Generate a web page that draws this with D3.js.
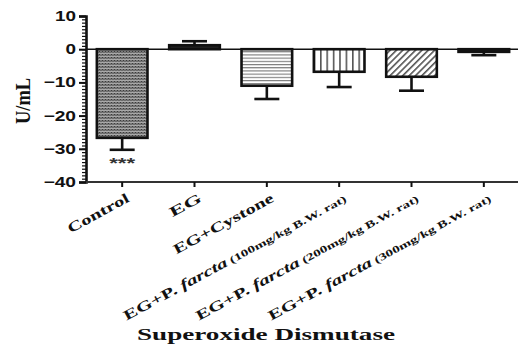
<!DOCTYPE html>
<html>
<head>
<meta charset="utf-8">
<script src="https://cdn.jsdelivr.net/npm/d3@7"></script>
<style>
  html, body { margin: 0; padding: 0; background: #fff; }
  svg { display: block; }
</style>
</head>
<body>
<svg id="chart" width="518" height="347"></svg>
<script>
// Superoxide dismutase activity by treatment group (U/mL)
const groups = ["Control", "EG", "EG+Cystone", "EG+P. farcta 100", "EG+P. farcta 200", "EG+P. farcta 300"];
const means = [-26.7, 1.2, -11.0, -6.8, -8.3, -0.8];
const errors = [3.6, 1.2, 4.0, 4.6, 4.2, 1.0];
const doses = ["100", "200", "300"];
const yTicks = [10, 0, -10, -20, -30, -40];
const patternIds = ["pCheck", "pDots", "pHoriz", "pVert", "pDiag", "pDark"];

const svg = d3.select("#chart");
const W = 518, H = 347;
const m = { left: 86, right: 0, top: 16, bottom: 165 };

const x = d3.scaleBand()
  .domain(groups)
  .range([m.left, W + 2])
  .paddingInner(0.3)
  .paddingOuter(0.15);
const y = d3.scaleLinear().domain([-40, 10]).range([182, 16]);

// fill patterns
const defs = svg.append("defs");
const pc = defs.append("pattern").attr("id", "pCheck").attr("patternUnits", "userSpaceOnUse").attr("width", 3).attr("height", 3);
pc.append("rect").attr("width", 3).attr("height", 3).attr("fill", "#7a7a7a");
pc.append("rect").attr("width", 1).attr("height", 1).attr("fill", "#3a3a3a");
pc.append("rect").attr("x", 1.5).attr("y", 1.5).attr("width", 1).attr("height", 1).attr("fill", "#3a3a3a");
pc.append("rect").attr("y", 2.4).attr("width", 3).attr("height", 0.6).attr("fill", "#cfcfcf");

const pd = defs.append("pattern").attr("id", "pDots").attr("patternUnits", "userSpaceOnUse").attr("width", 8).attr("height", 8);
pd.append("rect").attr("width", 8).attr("height", 8).attr("fill", "#222");
pd.append("rect").attr("x", 2).attr("y", 2).attr("width", 4).attr("height", 3).attr("fill", "#ddd");

const ph = defs.append("pattern").attr("id", "pHoriz").attr("patternUnits", "userSpaceOnUse").attr("width", 4).attr("height", 3.2);
ph.append("rect").attr("width", 4).attr("height", 3.2).attr("fill", "#fff");
ph.append("rect").attr("width", 4).attr("height", 1.1).attr("fill", "#777");

const pv = defs.append("pattern").attr("id", "pVert").attr("patternUnits", "userSpaceOnUse").attr("width", 6.4).attr("height", 4);
pv.append("rect").attr("width", 6.4).attr("height", 4).attr("fill", "#fff");
pv.append("rect").attr("width", 1.6).attr("height", 4).attr("fill", "#555");

const pg = defs.append("pattern").attr("id", "pDiag").attr("patternUnits", "userSpaceOnUse").attr("width", 4.5).attr("height", 4.5).attr("patternTransform", "rotate(-45)");
pg.append("rect").attr("width", 4.5).attr("height", 4.5).attr("fill", "#fff");
pg.append("rect").attr("width", 4.5).attr("height", 1.6).attr("fill", "#555");

const pk = defs.append("pattern").attr("id", "pDark").attr("patternUnits", "userSpaceOnUse").attr("width", 6).attr("height", 6);
pk.append("rect").attr("width", 6).attr("height", 6).attr("fill", "#333");

// y axis with minor ticks every unit
const yMinor = d3.axisLeft(y).ticks(50).tickSize(4).tickFormat("");
svg.append("g").attr("transform", `translate(${m.left},0)`).call(yMinor)
  .call(g => g.selectAll("line").attr("stroke", "#111").attr("stroke-width", 1.2))
  .call(g => g.select(".domain").remove());

const yAxis = d3.axisLeft(y).tickValues(yTicks).tickSize(7).tickPadding(3).tickFormat(d3.format("d"));
svg.append("g").attr("transform", `translate(${m.left},0)`).call(yAxis)
  .call(g => g.select(".domain").attr("stroke", "#111").attr("stroke-width", 2.6))
  .call(g => g.selectAll(".tick line").attr("stroke", "#111").attr("stroke-width", 2))
  .call(g => g.selectAll("text")
    .attr("font-family", "Liberation Sans, Arial, sans-serif")
    .attr("font-weight", "bold").attr("font-size", 14).attr("fill", "#111")
    .attr("textLength", d => String(d).length * 10.5 + (d < 0 ? 1 : 0))
    .attr("lengthAdjust", "spacingAndGlyphs"));

// bottom axis
const xAxis = d3.axisBottom(x).tickSize(5).tickFormat("");
svg.append("g").attr("transform", `translate(0,${y(-40)})`).call(xAxis)
  .call(g => g.select(".domain").attr("stroke", "#333").attr("stroke-width", 2.2).attr("d", `M${m.left},0H${W}`))
  .call(g => g.selectAll(".tick line").attr("stroke", "#111").attr("stroke-width", 2));

// bars
svg.append("g").selectAll("rect").data(groups).join("rect")
  .attr("x", d => x(d))
  .attr("width", x.bandwidth())
  .attr("y", (d, i) => y(Math.max(0, means[i])))
  .attr("height", (d, i) => Math.abs(y(means[i]) - y(0)))
  .attr("fill", (d, i) => `url(#${patternIds[i]})`)
  .attr("stroke", "#111").attr("stroke-width", 2.6);

// error bars (outward from zero)
const eb = svg.append("g").attr("stroke", "#111").attr("stroke-width", 2.6);
groups.forEach((g, i) => {
  const cx = x(g) + x.bandwidth() / 2;
  const dir = means[i] < 0 ? -1 : 1;
  const tip = means[i] + dir * errors[i];
  eb.append("line").attr("x1", cx).attr("x2", cx).attr("y1", y(means[i])).attr("y2", y(tip));
  eb.append("line").attr("x1", cx - 12.5).attr("x2", cx + 12.5).attr("y1", y(tip)).attr("y2", y(tip));
});

// zero reference line
svg.append("line").attr("x1", m.left).attr("x2", W).attr("y1", y(0)).attr("y2", y(0))
  .attr("stroke", "#111").attr("stroke-width", 1.6);

// significance marker
svg.append("text").attr("x", x("Control") + x.bandwidth() / 2).attr("y", y(-30) + 19)
  .attr("text-anchor", "middle").attr("font-family", "Liberation Sans, Arial, sans-serif")
  .attr("font-weight", "bold").attr("font-size", 15).attr("fill", "#333")
  .attr("textLength", 26).attr("lengthAdjust", "spacingAndGlyphs").text("***");

// category labels
const serif = "Liberation Serif, Times New Roman, serif";
const labelLen = [68, 34, 112, 251, 251, 251];
const lab = svg.append("g").attr("font-family", serif).attr("font-weight", "bold").attr("fill", "#111");
groups.forEach((g, i) => {
  const cx = x(g) + x.bandwidth() / 2;
  const t = lab.append("text")
    .attr("transform", `translate(${cx + 8},${y(-40) + 19}) rotate(-28.5)`)
    .attr("text-anchor", "end").attr("font-size", 14)
    .attr("textLength", labelLen[i]).attr("lengthAdjust", "spacingAndGlyphs");
  if (i < 3) {
    t.text(g);
  } else {
    t.append("tspan").text("EG+P. ");
    t.append("tspan").attr("font-style", "italic").text("farcta");
    t.append("tspan").attr("font-size", 10).text(` (${doses[i - 3]}mg/kg B.W. rat)`);
  }
});

// y axis title
svg.append("text").attr("transform", "translate(30,101) rotate(-90)")
  .attr("text-anchor", "middle").attr("font-family", serif).attr("font-size", 21)
  .attr("font-weight", "bold").attr("fill", "#111")
  .attr("textLength", 46).attr("lengthAdjust", "spacingAndGlyphs").text("U/mL");

// chart title
svg.append("text").attr("x", 266).attr("y", 340).attr("text-anchor", "middle")
  .attr("font-family", serif).attr("font-weight", "bold").attr("font-size", 17)
  .attr("fill", "#111").attr("textLength", 258).attr("lengthAdjust", "spacingAndGlyphs")
  .text("Superoxide Dismutase");
</script>
</body>
</html>
